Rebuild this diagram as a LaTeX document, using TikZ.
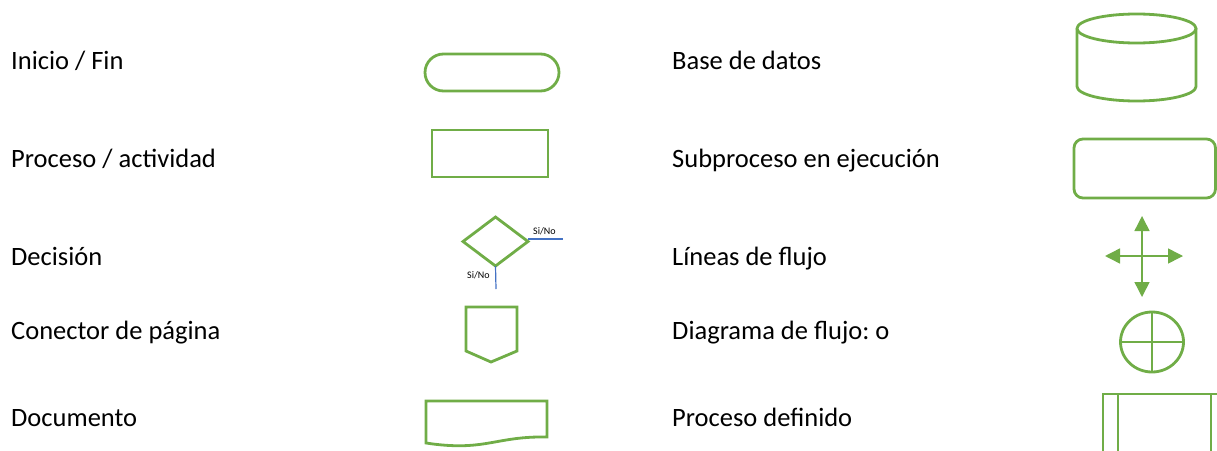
\documentclass[tikz,border=0pt]{standalone}
\usepackage{fontspec}
\setmainfont{Carlito}
\usepackage{tikz}
\usetikzlibrary{arrows.meta,shapes.geometric}
\definecolor{fcgreen}{HTML}{70AD47}
\definecolor{fcblue}{HTML}{4472C4}
\frenchspacing
\tikzset{
  labelText/.style={font=\fontsize{26.5}{32}\selectfont, anchor=base west, inner sep=0pt},
  tinyLabel/.style={font=\fontsize{10}{12}\selectfont, anchor=base west, inner sep=0pt},
  shapeLine/.style={draw=fcgreen, line width=2.8pt},
  branchLine/.style={draw=fcblue, line width=1.2pt},
  flowArrow/.style={draw=fcgreen, fill=fcgreen, line width=1.5pt, -{Triangle[length=15pt,width=15pt]}}
}

\begin{document}
\begin{tikzpicture}[x=1pt,y=-1pt]
  \useasboundingbox (0,0) rectangle (1217,450);
  \clip (0,0) rectangle (1217,450);
  % left column texts
  \node[labelText] (inicio) at (11,69) {Inicio / Fin};
  \node[labelText] (proceso) at (11,167) {Proceso / actividad};
  \node[labelText] (decision) at (11,265) {Decisión};
  \node[labelText] (conector) at (11,339) {Conector de página};
  \node[labelText] (documento) at (11,426) {Documento};
  % right column texts
  \node[labelText] (basedatos) at (672,69) {Base de datos};
  \node[labelText] (subproceso) at (672,167) {Subproceso en ejecución};
  \node[labelText] (lineas) at (672,265) {Líneas de flujo};
  \node[labelText] (diagrama) at (672,339) {Diagrama de flujo: o};
  \node[labelText] (definido) at (672,426) {Proceso definido};
  % left column shapes
  \draw[shapeLine, rounded corners=18.5] (425,54) rectangle (559,91);
  \draw[shapeLine] (432,130) rectangle (548,177);
  \node[diamond, shapeLine, inner sep=0pt, outer sep=0pt, minimum width=65, minimum height=49] (rombo) at (495.5,241.5) {};
  \coordinate (siR) at (563,239);
  \coordinate (siB) at (496,289);
  \draw[branchLine] (rombo.east) ++(0,-2.5) -- (siR);
  \draw[branchLine] (rombo.south) -- (siB);
  \node[tinyLabel] (siNoR) at (533,234) {Si/No};
  \node[tinyLabel] (siNoB) at (467,278) {Si/No};
  \draw[shapeLine, line join=miter] (466,307) -- (517,307) -- (517,351) -- (491,362) -- (466,351) -- cycle;
  \draw[shapeLine] (426,443) -- (426,401) -- (547,401) -- (547,437)
    .. controls (495,436) and (485,452) .. (426,443) -- cycle;
  % right column shapes
  \draw[shapeLine] (1136.5,28.5) ellipse [x radius=59.5, y radius=14.5];
  \draw[shapeLine] (1077,28.5) -- (1077,86.5)
    .. controls (1077,94.5) and (1103.6,101) .. (1136.5,101)
    .. controls (1169.4,101) and (1196,94.5) .. (1196,86.5) -- (1196,28.5);
  \draw[shapeLine, rounded corners=9] (1074,139) rectangle (1215.5,198);
  \coordinate (flujo) at (1142,256);
  \coordinate (flujoL) at (1105,256);
  \coordinate (flujoR) at (1183,256);
  \coordinate (flujoT) at (1142,216);
  \coordinate (flujoB) at (1142,297);
  \foreach \tip in {flujoL,flujoR,flujoT,flujoB}
    \draw[flowArrow] (flujo) -- (\tip);
  \draw[shapeLine] (1152,342) ellipse [x radius=31.5, y radius=30];
  \draw[shapeLine] (1120.5,342) -- (1183.5,342);
  \draw[shapeLine] (1152,312) -- (1152,372);
  \draw[shapeLine] (1103,470) -- (1103,394) -- (1230,394);
  \draw[shapeLine] (1118,394) -- (1118,470);
  \draw[shapeLine] (1211,394) -- (1211,470);
\end{tikzpicture}
\end{document}
